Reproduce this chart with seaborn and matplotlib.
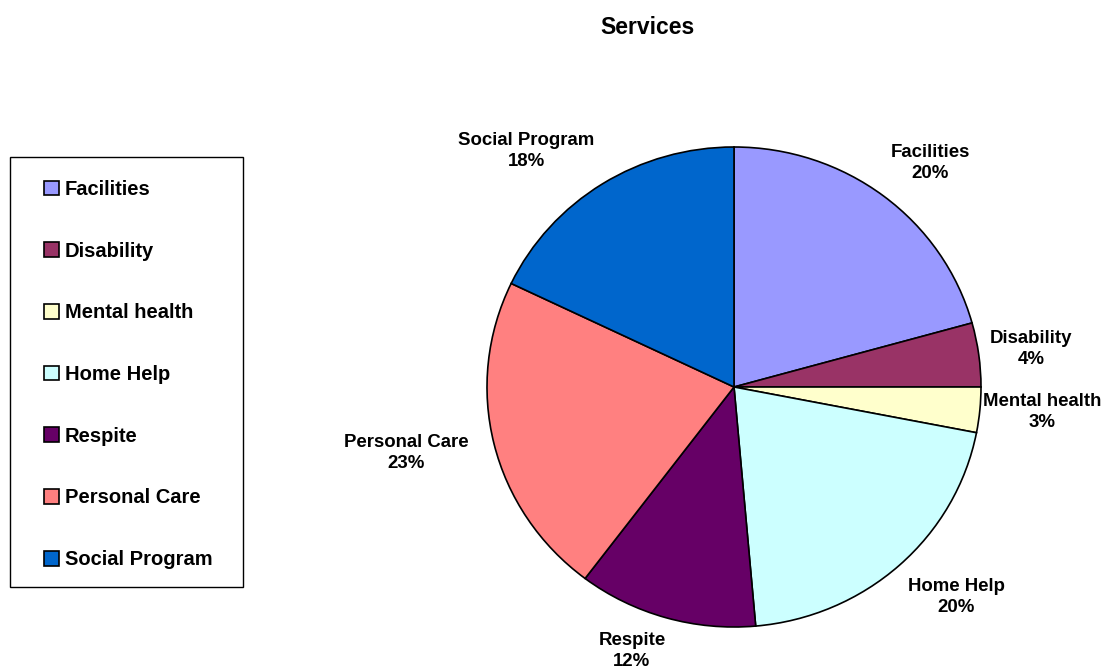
import matplotlib
matplotlib.use("Agg")
import matplotlib.pyplot as plt
import seaborn as sns
from matplotlib.patches import Rectangle

# ---- data ----
categories = ["Facilities", "Disability", "Mental health", "Home Help",
              "Respite", "Personal Care", "Social Program"]
values = [20.7, 4.3, 3.05, 20.55, 11.7, 21.8, 17.9]
pct_labels = [20, 4, 3, 20, 12, 23, 18]
colors = ["#9999FF", "#993366", "#FFFFCC", "#CCFFFF", "#660066", "#FF8080", "#0066CC"]

# label anchor positions in pie-radius units
label_pos = [(0.794, 0.933), (1.202, 0.158), (1.247, -0.104), (0.899, -0.875),
             (-0.413, -1.10), (-1.327, -0.275), (-0.842, 0.983)]

sns.set_theme(style="white")
plt.rcParams['font.family'] = ['Liberation Sans', 'DejaVu Sans']
plt.rcParams['text.color'] = 'black'

W, H = 1116, 670
fig = plt.figure(figsize=(W / 100, H / 100), dpi=100)
fig.patch.set_facecolor("white")

cx, cy, rx, ry = 734, 387, 247, 240
ax = fig.add_axes([(cx - rx) / W, (H - cy - ry) / H, 2 * rx / W, 2 * ry / H])
wedges, _ = ax.pie(values, colors=sns.color_palette(colors), startangle=90,
                   counterclock=False,
                   wedgeprops=dict(edgecolor="black", linewidth=1.2))
ax.set_aspect("auto")
ax.set_xlim(-1, 1)
ax.set_ylim(-1, 1)
ax.axis("off")

for cat, p, (lx, ly) in zip(categories, pct_labels, label_pos):
    ax.text(lx, ly, f"{cat}\n{p}%", ha="center", va="center", color="black",
            fontsize=13.4, fontweight="bold", linespacing=1.35)

fig.text(647 / W, 1 - 27 / H, "Services", ha="center", va="center",
         fontsize=16.5, fontweight="bold", color="black")

fig.add_artist(Rectangle((10 / W, (H - 587) / H), 233 / W, 430 / H,
                         transform=fig.transFigure, fill=False,
                         edgecolor="black", linewidth=1.0))

leg = fig.legend(wedges, categories, loc="upper left",
                 bbox_to_anchor=(44 / W, (H - 180) / H), frameon=False,
                 prop=dict(weight="bold", size=14.5), handlelength=0.75,
                 handleheight=0.75, handletextpad=0.28, labelspacing=2.12,
                 borderpad=0, borderaxespad=0)
for t in leg.get_texts():
    t.set_color("black")

fig.savefig("out.png", dpi=100, facecolor="white")
